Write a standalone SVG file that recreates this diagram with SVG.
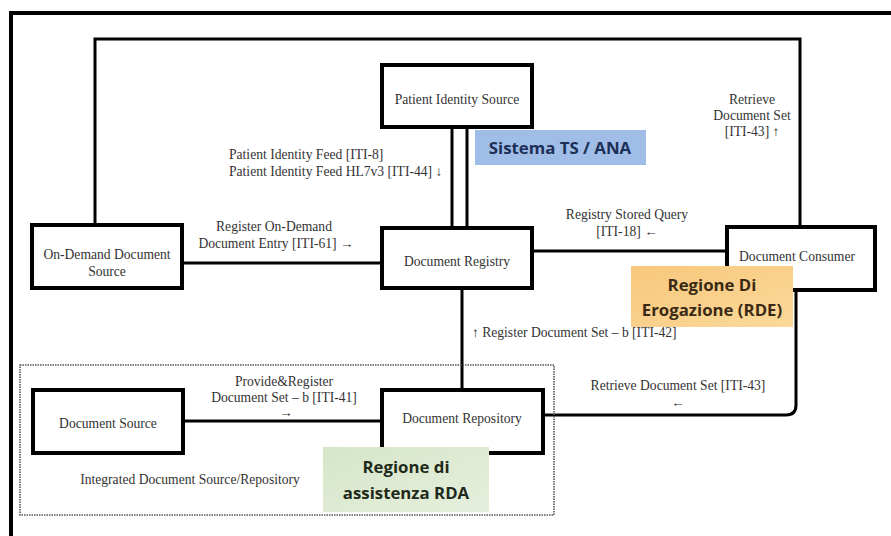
<svg xmlns="http://www.w3.org/2000/svg" width="891" height="536" viewBox="0 0 891 536">
  <defs>
    <linearGradient id="gOrange" x1="0" y1="0" x2="1" y2="1">
      <stop offset="0" stop-color="#f8c77c"/>
      <stop offset="1" stop-color="#fbd99a"/>
    </linearGradient>
    <linearGradient id="gGreen" x1="0" y1="0" x2="1" y2="1">
      <stop offset="0" stop-color="#d6e6c9"/>
      <stop offset="1" stop-color="#e6efdc"/>
    </linearGradient>
    <style>
      .box { fill: #fff; stroke: #000; stroke-width: 4; }
      .wire { fill: none; stroke: #000; stroke-width: 3; }
      .frame { fill: none; stroke: #000; stroke-width: 4; }
      .lbl { font-family: "Liberation Serif", "Times New Roman", serif; font-size: 13.6px; fill: #333; text-anchor: middle; }
      .lbl-s { font-family: "Liberation Serif", "Times New Roman", serif; font-size: 13.6px; fill: #333; }
      .tag { font-family: "Open Sans", "Liberation Sans", sans-serif; font-weight: bold; font-size: 16.8px; text-anchor: middle; }
    </style>
  </defs>

  <rect width="891" height="536" fill="#fff"/>

  <!-- outer frame (runs off the right and bottom edges) -->
  <path class="frame" d="M11,540 V13 H895"/>

  <!-- connectors -->
  <g id="connectors">
    <!-- loop from On-Demand Source over the top to Document Consumer -->
    <path class="wire" d="M95,226 V39 H800 V228"/>
    <!-- double link Patient Identity Source to Document Registry -->
    <line class="wire" x1="452" y1="127" x2="452" y2="229"/>
    <line class="wire" x1="467" y1="127" x2="467" y2="229"/>
    <!-- On-Demand Source to Registry -->
    <line class="wire" x1="182" y1="263" x2="382" y2="263"/>
    <!-- Registry to Consumer -->
    <line class="wire" x1="532" y1="251" x2="727" y2="251"/>
    <!-- Registry to Repository -->
    <line class="wire" x1="462" y1="288" x2="462" y2="390"/>
    <!-- Consumer to Repository -->
    <path class="wire" d="M796,290 V405 Q796,415 786,415 H543"/>
    <!-- Source to Repository -->
    <line class="wire" x1="183" y1="421" x2="382" y2="421"/>
  </g>

  <!-- integrated source/repository boundary -->
  <g id="integrated">
    <rect x="20" y="365" width="534" height="150" fill="none" stroke="#555" stroke-width="1.6" stroke-dasharray="1.5,1"/>
    <text class="lbl" x="190" y="484">Integrated Document Source/Repository</text>
  </g>

  <g id="patient-identity-source">
    <rect class="box" x="382" y="65" width="150" height="62"/>
    <text class="lbl" x="457" y="104">Patient Identity Source</text>
  </g>

  <g id="on-demand-source">
    <rect class="box" x="32" y="225" width="150" height="63"/>
    <text class="lbl" x="107" y="259">On-Demand Document</text>
    <text class="lbl" x="107" y="276">Source</text>
  </g>

  <g id="document-registry">
    <rect class="box" x="382" y="228" width="150" height="60"/>
    <text class="lbl" x="457" y="266">Document Registry</text>
  </g>

  <g id="document-consumer">
    <rect class="box" x="727" y="227" width="148" height="63"/>
    <text class="lbl" x="797" y="261">Document Consumer</text>
  </g>

  <g id="document-source">
    <rect class="box" x="33" y="390" width="150" height="63"/>
    <text class="lbl" x="108" y="428">Document Source</text>
  </g>

  <g id="document-repository">
    <rect class="box" x="382" y="390" width="161" height="63"/>
    <text class="lbl" x="462" y="423">Document Repository</text>
  </g>

  <!-- transaction labels -->
  <g id="labels">
    <text class="lbl-s" x="229" y="159">Patient Identity Feed [ITI-8]</text>
    <text class="lbl-s" x="229" y="176">Patient Identity Feed HL7v3 [ITI-44] ↓</text>
    <text class="lbl" x="752" y="104">Retrieve</text>
    <text class="lbl" x="752" y="120">Document Set</text>
    <text class="lbl" x="752" y="136">[ITI-43] ↑</text>
    <text class="lbl" x="274" y="231">Register On-Demand</text>
    <text class="lbl" x="276" y="248">Document Entry [ITI-61] →</text>
    <text class="lbl" x="627" y="219">Registry Stored Query</text>
    <text class="lbl" x="627" y="236">[ITI-18] ←</text>
    <text class="lbl-s" x="472" y="337">↑ Register Document Set – b [ITI-42]</text>
    <text class="lbl" x="678" y="390">Retrieve Document Set [ITI-43]</text>
    <text class="lbl" x="678" y="407">←</text>
    <text class="lbl" x="284" y="386">Provide&amp;Register</text>
    <text class="lbl" x="284" y="402">Document Set – b [ITI-41]</text>
    <text class="lbl" x="286" y="417">→</text>
  </g>

  <!-- region tags -->
  <g id="tag-ts-ana">
    <rect x="475" y="130" width="171" height="35" fill="#9fbde6"/>
    <text class="tag" x="560" y="154" fill="#1c2f57">Sistema TS / ANA</text>
  </g>

  <g id="tag-rde">
    <rect x="631" y="266" width="162" height="61" fill="url(#gOrange)"/>
    <text class="tag" x="712" y="291" fill="#3a2a14">Regione Di</text>
    <text class="tag" x="712" y="316" fill="#3a2a14">Erogazione (RDE)</text>
  </g>

  <g id="tag-rda">
    <rect x="323" y="447" width="166" height="65" fill="url(#gGreen)"/>
    <text class="tag" x="406" y="473" fill="#1f2a1a">Regione di</text>
    <text class="tag" x="406" y="499" fill="#1f2a1a">assistenza RDA</text>
  </g>
</svg>
